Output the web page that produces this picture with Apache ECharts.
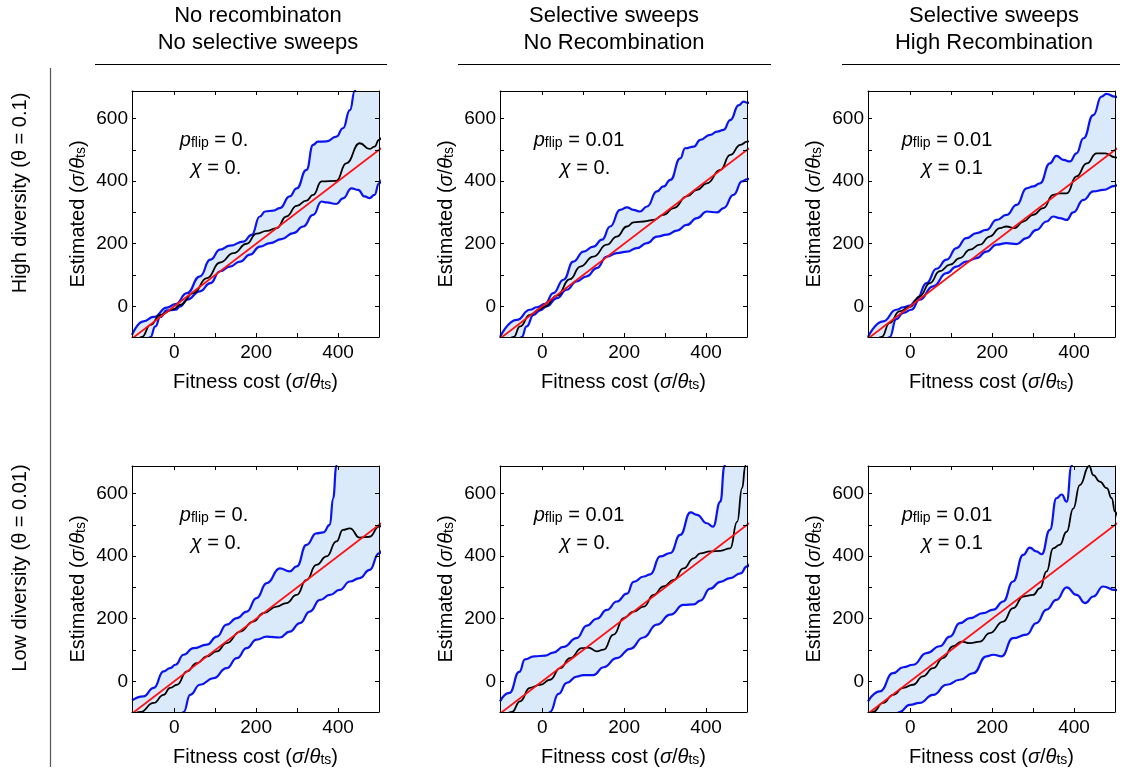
<!DOCTYPE html>
<html>
<head>
<meta charset="utf-8">
<script src="https://cdn.jsdelivr.net/npm/echarts@6/dist/echarts.min.js"></script>
<style>
  html, body { margin: 0; padding: 0; background: #fff; }
  #chart { width: 1123px; height: 773px; }
</style>
</head>
<body>
<div id="chart"></div>
<script>
// Column and row headings
const colTitles = [
  ['No recombinaton', 'No selective sweeps'],
  ['Selective sweeps', 'No Recombination'],
  ['Selective sweeps', 'High Recombination']
];
const rowTitles = ['High diversity (\u03B8 = 0.1)', 'Low diversity (\u03B8 = 0.01)'];

// Axis ranges and ticks
const X_MIN = -103, X_MAX = 500;
const Y_MIN = -98, Y_MAX = 688;
const xTicks = [0, 100, 200, 300, 400];
const xLabels = [0, 200, 400];
const yTicks = [0, 100, 200, 300, 400, 500, 600];
const yLabels = [0, 200, 400, 600];

// True value: estimated = fitness cost
const identityLine = [[-110, -110], [510, 510]];

// High diversity, no recombination, no sweeps
const hiNoRecUpper = [[-103,-91],[-75,-48],[-50,-34],[-18,-4],[3,7],[31,42],[63,96],[88,149],[112,181],[136,194],[169,207],[189,228],[209,287],[222,303],[242,306],[258,314],[282,351],[299,377],[323,436],[339,516],[351,526],[372,527],[396,542],[412,569],[429,627],[441,688],[452,760],[470,880],[490,1000],[510,1120]];
const hiNoRecLower = [[-103,-260],[-80,-170],[-58,-98],[-46,-64],[-34,-34],[-18,-13],[3,-11],[15,0],[31,21],[63,48],[88,74],[112,112],[136,127],[161,143],[185,165],[209,191],[234,202],[262,215],[291,234],[315,255],[339,292],[360,335],[372,332],[396,327],[412,345],[433,377],[449,372],[465,351],[477,346],[489,356],[500,393],[510,420]];
const hiNoRecEst = [[-103,-150],[-79,-98],[-58,-59],[-34,-27],[-2,-9],[15,5],[47,42],[80,90],[112,140],[145,170],[177,200],[201,232],[226,241],[250,250],[274,287],[299,321],[323,338],[339,356],[360,399],[396,401],[420,457],[453,521],[477,503],[489,510],[500,532],[510,550]];

// High diversity, sweeps, no recombination
const hiSweepUpper = [[-103,-98],[-62,-43],[-30,-11],[-13,-3],[7,8],[27,42],[52,85],[76,143],[101,175],[125,191],[146,213],[166,255],[190,308],[207,316],[223,308],[239,303],[256,319],[280,367],[296,383],[313,404],[337,473],[349,505],[370,510],[386,532],[410,548],[427,558],[443,564],[459,595],[480,643],[492,654],[500,651],[510,648]];
const hiSweepLower = [[-103,-230],[-70,-140],[-50,-98],[-38,-64],[-21,-27],[-5,-13],[11,0],[36,26],[60,53],[84,80],[109,96],[133,122],[158,159],[182,170],[207,175],[231,186],[256,202],[280,223],[305,229],[329,242],[353,260],[378,282],[402,303],[427,300],[443,314],[467,356],[488,399],[500,406],[510,410]];
const hiSweepEst = [[-103,-160],[-70,-98],[-54,-64],[-30,-27],[-5,-9],[7,0],[36,34],[68,87],[93,127],[125,159],[158,197],[182,223],[207,255],[223,268],[248,271],[272,276],[296,292],[321,314],[353,351],[378,372],[402,393],[435,436],[459,484],[484,516],[500,526],[510,530]];

// High diversity, sweeps, high recombination
const hiRecUpper = [[-103,-98],[-66,-48],[-34,-11],[-17,-3],[-1,2],[15,21],[40,74],[64,120],[89,149],[113,186],[137,218],[162,234],[186,244],[211,276],[235,292],[260,324],[284,377],[300,383],[317,393],[341,457],[357,481],[374,468],[390,463],[406,489],[423,537],[447,611],[467,670],[479,679],[500,670],[510,665]];
const hiRecLower = [[-103,-240],[-70,-140],[-50,-98],[-34,-41],[-17,-21],[3,-11],[23,21],[56,64],[89,106],[113,127],[137,143],[162,154],[186,175],[211,197],[235,202],[260,199],[284,218],[308,244],[333,271],[349,287],[365,282],[382,276],[398,300],[423,340],[447,367],[471,372],[500,385],[510,390]];
const hiRecEst = [[-103,-160],[-70,-98],[-50,-53],[-26,-16],[-1,-2],[23,32],[48,74],[72,112],[97,133],[121,154],[146,181],[170,197],[194,223],[219,250],[235,255],[255,250],[276,271],[300,292],[325,314],[349,356],[365,361],[382,361],[406,415],[431,457],[455,489],[476,489],[500,476],[510,472]];

// Low diversity, no recombination, no sweeps
const loNoRecUpper = [[-103,-61],[-75,-48],[-50,-21],[-26,32],[-10,42],[3,53],[23,85],[47,106],[80,117],[104,143],[128,181],[153,202],[177,223],[201,266],[226,314],[258,361],[282,351],[299,367],[323,436],[347,473],[364,476],[380,500],[388,585],[396,688],[402,800],[420,1000],[450,1200],[480,1350],[510,1500]];
const loNoRecLower = [[-103,-300],[0,-200],[23,-98],[39,-43],[63,-11],[96,10],[128,42],[153,74],[177,106],[201,133],[226,143],[258,140],[282,159],[307,186],[331,223],[356,260],[380,276],[404,292],[429,319],[453,330],[477,356],[500,409],[510,430]];
const loNoRecEst = [[-103,-110],[-83,-98],[-50,-69],[-26,-43],[-10,-21],[7,-11],[31,32],[55,58],[80,80],[104,96],[128,122],[161,159],[193,191],[218,218],[250,239],[274,250],[299,276],[323,324],[347,372],[372,399],[396,447],[412,484],[429,489],[453,459],[477,462],[500,494],[510,505]];

// Low diversity, sweeps, no recombination
const loSweepUpper = [[-103,-64],[-80,-37],[-56,30],[-42,70],[-20,80],[7,82],[27,92],[52,110],[84,138],[109,178],[133,200],[158,228],[182,255],[207,280],[223,318],[248,335],[264,342],[288,399],[313,410],[337,468],[362,540],[378,532],[402,505],[417,494],[435,574],[445,688],[455,820],[475,1000],[492,1150],[510,1300]];
const loSweepLower = [[-103,-300],[0,-160],[19,-98],[40,-40],[60,-5],[84,15],[101,20],[125,20],[150,45],[182,74],[215,104],[247,140],[280,181],[313,213],[345,244],[370,246],[386,258],[410,296],[435,318],[459,330],[484,345],[500,367],[510,385]];
const loSweepEst = [[-103,-130],[-74,-98],[-54,-64],[-30,-21],[-5,-11],[19,5],[44,42],[68,74],[97,106],[113,108],[133,96],[150,101],[174,149],[199,202],[223,223],[248,239],[272,276],[296,303],[321,324],[345,361],[370,393],[386,409],[410,415],[435,417],[459,425],[476,510],[488,617],[496,688],[502,770],[510,860]];

// Low diversity, sweeps, high recombination
const loRecUpper = [[-103,-64],[-74,-32],[-42,26],[-17,45],[7,53],[40,90],[72,112],[97,143],[121,186],[146,202],[178,218],[203,229],[227,255],[251,319],[276,404],[292,427],[308,415],[321,406],[341,484],[357,585],[370,597],[382,574],[394,688],[405,820],[430,1000],[460,1150],[485,1280],[510,1400]];
const loRecLower = [[-103,-300],[-50,-140],[-26,-98],[-1,-75],[23,-69],[56,-43],[89,-11],[121,5],[154,26],[186,80],[203,85],[223,80],[251,138],[284,149],[308,186],[333,229],[357,260],[382,300],[406,276],[427,250],[447,271],[471,303],[500,292],[510,290]];
const loRecEst = [[-103,-112],[-91,-98],[-66,-69],[-42,-43],[-17,-21],[7,-11],[31,16],[56,42],[80,74],[105,112],[125,127],[146,122],[170,127],[194,154],[227,191],[251,234],[276,271],[300,276],[317,298],[333,351],[349,425],[365,436],[382,478],[398,552],[414,627],[437,688],[447,659],[463,638],[480,617],[492,585],[500,542],[510,500]];

// Parameter values shown in each panel
const pFlipValues = ['0.', '0.01', '0.01', '0.', '0.01', '0.01'];
const chiValues = ['0.', '0.', '0.1', '0.', '0.', '0.1'];

const panels = [
  { row: 0, col: 0, upper: hiNoRecUpper, lower: hiNoRecLower, est: hiNoRecEst },
  { row: 0, col: 1, upper: hiSweepUpper, lower: hiSweepLower, est: hiSweepEst },
  { row: 0, col: 2, upper: hiRecUpper, lower: hiRecLower, est: hiRecEst },
  { row: 1, col: 0, upper: loNoRecUpper, lower: loNoRecLower, est: loNoRecEst },
  { row: 1, col: 1, upper: loSweepUpper, lower: loSweepLower, est: loSweepEst },
  { row: 1, col: 2, upper: loRecUpper, lower: loRecLower, est: loRecEst }
];

const FONT = '"Liberation Sans", Arial, Helvetica, sans-serif';
const BLUE = '#0a14f0';
const BAND = '#dbeafb';
const RED = '#ff1010';

const colLeft = [132, 500, 868];
const rowTop = [91, 466];
const PW = 247, PH = 246;

const richStyles = {
  i: { fontStyle: 'italic', fontSize: 20, fontFamily: FONT, color: '#000' },
  s: { fontSize: 14, fontFamily: FONT, color: '#000', verticalAlign: 'bottom', lineHeight: 14 },
  n: { fontSize: 20, fontFamily: FONT, color: '#000' }
};

const grid = [], xAxis = [], yAxis = [], series = [], graphic = [];

const frameLine = { show: true, onZero: false, lineStyle: { color: '#000', width: 1 } };

panels.forEach((p, i) => {
  grid.push({ left: colLeft[p.col], top: rowTop[p.row], width: PW, height: PH });

  const xb = xAxis.length;
  xAxis.push({
    type: 'value', gridIndex: i, min: X_MIN, max: X_MAX, position: 'bottom', z: 10,
    axisLine: frameLine,
    axisTick: { inside: true, length: 4, customValues: xTicks, lineStyle: { color: '#000' } },
    axisLabel: { customValues: xLabels, fontSize: 19, color: '#000', fontFamily: FONT, margin: 6 },
    splitLine: { show: false },
    name: '{n|Fitness cost (}{i|\u03C3}{n|/}{i|\u03B8}{s|ts}{n|)}',
    nameLocation: 'middle', nameGap: 35,
    nameTextStyle: { fontSize: 20, fontFamily: FONT, color: '#000', rich: richStyles }
  });
  xAxis.push({
    type: 'value', gridIndex: i, min: X_MIN, max: X_MAX, position: 'top', z: 10,
    axisLine: frameLine,
    axisTick: { inside: true, length: 4, customValues: xTicks, lineStyle: { color: '#000' } },
    axisLabel: { show: false }, splitLine: { show: false }
  });

  const yb = yAxis.length;
  yAxis.push({
    type: 'value', gridIndex: i, min: Y_MIN, max: Y_MAX, position: 'left', z: 10,
    axisLine: frameLine,
    axisTick: { inside: true, length: 4, customValues: yTicks, lineStyle: { color: '#000' } },
    axisLabel: { customValues: yLabels, fontSize: 19, color: '#000', fontFamily: FONT, margin: 4 },
    splitLine: { show: false },
    name: '{n|Estimated (}{i|\u03C3}{n|/}{i|\u03B8}{s|ts}{n|)}',
    nameLocation: 'middle', nameGap: 44, nameRotate: 90,
    nameTextStyle: { fontSize: 20, fontFamily: FONT, color: '#000', rich: richStyles }
  });
  yAxis.push({
    type: 'value', gridIndex: i, min: Y_MIN, max: Y_MAX, position: 'right', z: 10,
    axisLine: frameLine,
    axisTick: { inside: true, length: 4, customValues: yTicks, lineStyle: { color: '#000' } },
    axisLabel: { show: false }, splitLine: { show: false }
  });

  const base = {
    type: 'line', xAxisIndex: xb, yAxisIndex: yb, symbol: 'none', showSymbol: false,
    smooth: 0.5, smoothMonotone: 'x', silent: true, animation: false, clip: true
  };
  // Shaded band: fill under the upper bound, then blank out under the lower bound
  series.push(Object.assign({}, base, { data: p.upper, z: 1,
    lineStyle: { width: 0, opacity: 0 }, areaStyle: { color: BAND, opacity: 1, origin: 'start' } }));
  series.push(Object.assign({}, base, { data: p.lower, z: 1,
    lineStyle: { width: 0, opacity: 0 }, areaStyle: { color: '#ffffff', opacity: 1, origin: 'start' } }));
  // Bounds, estimate, and identity line
  series.push(Object.assign({}, base, { data: p.upper, z: 3, lineStyle: { color: BLUE, width: 2.2 } }));
  series.push(Object.assign({}, base, { data: p.lower, z: 3, lineStyle: { color: BLUE, width: 2.2 } }));
  series.push(Object.assign({}, base, { data: p.est, z: 4, lineStyle: { color: '#000', width: 1.8 } }));
  series.push(Object.assign({}, base, { data: identityLine, smooth: false, z: 5, lineStyle: { color: RED, width: 1.8 } }));

  // Parameter annotations
  const pOff = [82, 79, 79][p.col];
  const cOff = [84, 85, 84][p.col];
  graphic.push({
    type: 'text', x: colLeft[p.col] + pOff, y: rowTop[p.row] + 49, z: 20,
    style: { text: '{i|p}{s|flip}{n| = ' + pFlipValues[i] + '}', rich: richStyles,
      align: 'center', verticalAlign: 'middle', textAlign: 'center', textVerticalAlign: 'middle',
      fontSize: 20, fontFamily: FONT, fill: '#000' }
  });
  graphic.push({
    type: 'text', x: colLeft[p.col] + cOff, y: rowTop[p.row] + 77, z: 20,
    style: { text: '{i|\u03C7}{n| = ' + chiValues[i] + '}', rich: richStyles,
      align: 'center', verticalAlign: 'middle', textAlign: 'center', textVerticalAlign: 'middle',
      fontSize: 20, fontFamily: FONT, fill: '#000' }
  });
});

// Column headings with rules underneath
const titleX = [258, 614, 994];
const ruleSpan = [[95, 387], [458, 771], [842, 1120]];
colTitles.forEach((t, c) => {
  t.forEach((line, k) => {
    graphic.push({
      type: 'text', x: titleX[c], y: 16 + k * 27,
      style: { text: line, fontSize: 22, fontFamily: FONT, fill: '#000',
        align: 'center', verticalAlign: 'middle', textAlign: 'center', textVerticalAlign: 'middle' }
    });
  });
  graphic.push({
    type: 'line', shape: { x1: ruleSpan[c][0], y1: 64.5, x2: ruleSpan[c][1], y2: 64.5 },
    style: { stroke: '#000', lineWidth: 1.2 }
  });
});

// Row headings and the vertical rule
const rowLabelY = [193, 568];
rowTitles.forEach((t, r) => {
  graphic.push({
    type: 'text', x: 20, y: rowLabelY[r], rotation: Math.PI / 2,
    style: { text: t, fontSize: 20, fontFamily: FONT, fill: '#000',
      align: 'center', verticalAlign: 'middle', textAlign: 'center', textVerticalAlign: 'middle' }
  });
});
graphic.push({
  type: 'line', shape: { x1: 50.5, y1: 68, x2: 50.5, y2: 767 },
  style: { stroke: '#555', lineWidth: 1.2 }
});

const chart = echarts.init(document.getElementById('chart'), null, { renderer: 'canvas' });
chart.setOption({
  animation: false,
  backgroundColor: '#ffffff',
  grid, xAxis, yAxis, series, graphic
});
</script>
</body>
</html>
